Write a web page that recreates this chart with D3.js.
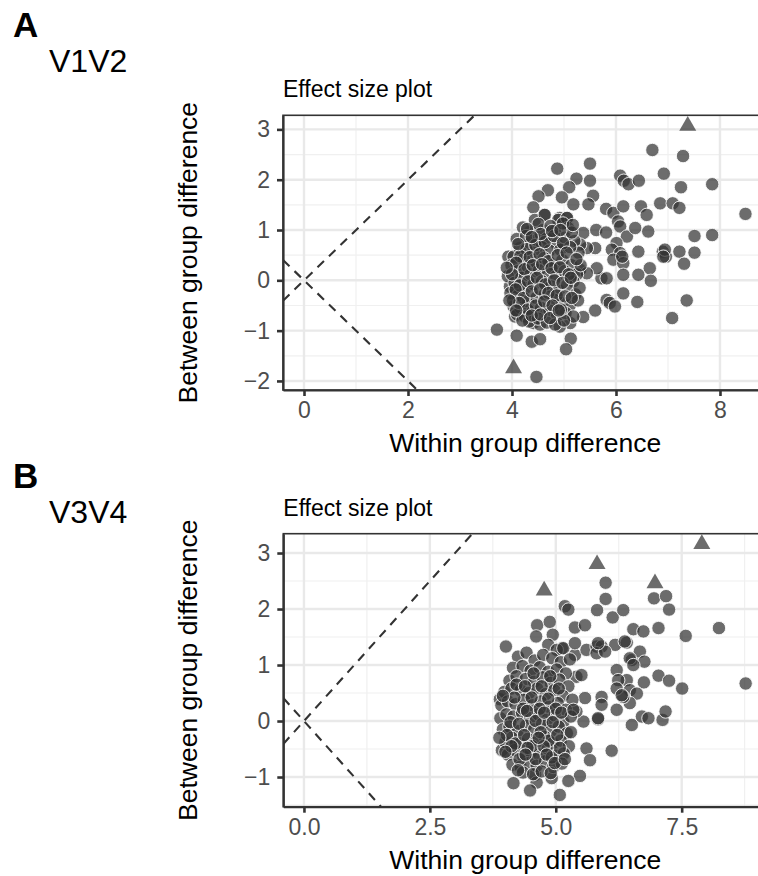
<!DOCTYPE html>
<html>
<head>
<meta charset="utf-8">
<script src="https://cdn.jsdelivr.net/npm/d3@7"></script>
<style>
  body { margin: 0; background: #fff; }
  svg { display: block; font-family: "Liberation Sans", Arial, sans-serif; }
</style>
</head>
<body>
<svg id="chart" width="758" height="876"></svg>
<script>
// V1V2 : within / between group difference (circles), outliers marked as triangles
var v12Circles = [
  [6.70,2.59],[7.29,2.47],[4.87,2.22],[5.50,2.32],[6.92,2.12],[6.08,2.08],[6.15,1.98],[6.24,1.91],[6.44,1.98],
  [5.24,2.02],[5.50,1.98],[5.10,1.85],[7.25,1.85],[7.85,1.91],[4.69,1.79],[4.51,1.67],[4.96,1.65],[5.56,1.68],
  [5.18,1.51],[5.47,1.51],[4.41,1.45],[5.81,1.42],[5.95,1.34],[6.14,1.47],[6.48,1.47],[6.59,1.30],[6.85,1.53],
  [7.09,1.53],[7.22,1.44],[8.49,1.32],[4.62,1.30],[4.92,1.24],[5.05,1.24],[5.37,0.94],[5.62,1.00],[5.81,0.95],
  [6.04,1.17],[6.08,1.07],[6.21,0.87],[6.37,1.04],[6.62,0.97],[7.51,0.88],[7.85,0.90],[6.01,0.74],[5.92,0.61],
  [6.08,0.54],[5.95,0.41],[6.14,0.34],[6.43,0.57],[6.90,0.57],[6.96,0.47],[7.22,0.57],[7.51,0.55],[7.31,0.33],
  [6.65,0.24],[6.67,-0.01],[6.43,0.11],[6.14,0.11],[7.36,-0.40],[7.08,-0.75],[6.41,-0.43],[6.14,-0.26],[5.82,-0.39],
  [5.88,-0.45],[5.98,-0.52],[5.60,-0.60],[5.37,-0.73],[3.71,-0.98],[4.09,-1.10],[4.38,-1.22],[4.54,-1.17],[5.13,-1.16],
  [5.04,-1.37],[4.47,-1.92],[5.72,0.04],[5.82,0.04],[5.63,0.24],[5.31,0.21],[5.44,0.14],[5.60,0.64],[5.44,0.64],
  [5.31,0.71],[5.12,-0.85],[4.92,-0.92],[4.41,-0.85],[4.54,-0.88],[4.03,-0.52],[4.06,-0.72],[3.96,-0.12],[3.93,0.47],
  [6.94,0.61],[6.91,0.47],[6.12,0.47],
  [4.44,1.20],[4.63,1.30],[4.89,1.20],[5.06,1.24],[4.35,0.97],[4.60,1.00],[4.83,0.97],[5.08,1.04],[4.03,0.47],
  [4.15,0.64],[4.35,0.74],[4.48,0.80],[4.67,0.83],[4.86,0.72],[5.02,0.85],[5.20,0.78],[5.28,0.55],[4.21,1.05],
  [4.51,1.12],[4.74,1.08],[4.98,1.13],[5.15,0.95],[4.09,0.82],[4.27,0.88],[4.57,0.66],[4.72,0.59],[4.93,0.61],
  [5.12,0.66],[4.41,0.55],[4.23,0.42],[3.99,0.30],[4.11,0.18],[4.30,0.28],[4.47,0.36],[4.62,0.44],[4.80,0.31],
  [4.97,0.40],[5.14,0.30],[5.25,0.12],[3.92,0.08],[4.05,-0.05],[4.18,0.05],[4.36,0.12],[4.52,0.20],[4.69,0.15],
  [4.85,0.08],[5.01,0.18],[5.18,-0.02],[3.97,-0.25],[4.12,-0.30],[4.26,-0.15],[4.42,-0.08],[4.58,-0.02],[4.75,-0.12],
  [4.90,-0.20],[5.06,-0.10],[5.22,-0.28],[4.02,-0.40],[4.17,-0.55],[4.31,-0.42],[4.47,-0.35],[4.63,-0.28],[4.80,-0.38],
  [4.96,-0.45],[5.11,-0.50],[5.27,-0.40],[4.10,-0.68],[4.25,-0.72],[4.40,-0.62],[4.56,-0.55],[4.72,-0.60],[4.87,-0.70],
  [5.03,-0.65],[5.18,-0.72],[4.33,-0.82],[4.50,-0.76],[4.67,-0.84],[4.83,-0.88],[5.00,-0.80],[4.28,0.62],[4.45,0.70],
  [4.63,0.76],[4.81,0.88],[4.98,0.74],[4.16,0.48],[4.34,0.46],[4.53,0.52],[4.70,0.38],[4.88,0.50],[5.05,0.55],
  [4.08,0.35],[4.24,0.22],[4.40,0.30],[4.58,0.32],[4.76,0.24],[4.92,0.26],[5.09,0.12],[4.00,0.12],[4.15,-0.10],
  [4.31,-0.02],[4.48,0.05],[4.64,-0.08],[4.81,0.00],[4.97,-0.05],[5.13,0.05],[4.07,-0.18],[4.22,-0.35],[4.38,-0.22],
  [4.54,-0.18],[4.70,-0.25],[4.86,-0.30],[5.02,-0.32],[4.14,-0.45],[4.30,-0.58],[4.46,-0.50],[4.62,-0.42],[4.78,-0.50],
  [4.94,-0.58],[4.20,-0.80],[4.38,-0.70],[4.55,-0.68],[4.73,-0.75],[4.90,-0.60],[4.29,1.02],[4.55,0.92],[4.77,0.98],
  [4.93,1.00],[5.17,1.10],[4.12,0.72],[4.38,0.86],[5.32,0.30],[5.30,-0.15],[5.24,0.42],[5.15,-0.35],[3.95,-0.40],
  [3.90,0.25],[4.08,-0.60]
];
var v12Triangles = [[7.38,3.07],[4.03,-1.75]];

// V3V4
var v34Circles = [
  [5.99,2.47],[5.99,2.18],[5.18,2.05],[5.25,1.99],[5.82,1.98],[6.13,1.85],[6.34,1.98],[6.95,2.19],[7.19,2.23],
  [7.25,1.99],[4.63,1.71],[4.88,1.77],[4.61,1.51],[4.94,1.54],[4.01,1.33],[5.38,1.67],[5.58,1.71],[6.54,1.64],
  [6.74,1.60],[7.04,1.66],[7.58,1.52],[8.24,1.66],[6.51,1.09],[6.67,1.24],[6.76,1.06],[6.21,0.91],[6.41,0.73],
  [6.75,0.69],[7.04,0.81],[7.25,0.72],[7.51,0.58],[8.77,0.67],[4.85,1.36],[5.12,1.30],[5.38,1.18],[5.61,1.27],
  [5.81,1.33],[5.91,1.33],[5.81,1.21],[6.18,1.36],[6.41,1.40],[6.37,1.42],[6.47,1.12],[6.54,1.00],[6.47,0.55],
  [6.61,0.49],[6.47,0.32],[6.34,0.43],[6.21,0.20],[6.51,-0.07],[6.71,0.08],[6.84,0.05],[7.12,0.02],[7.18,0.17],
  [5.84,0.03],[6.11,-0.53],[5.61,-0.49],[5.68,-0.70],[5.48,-0.98],[5.25,-1.07],[5.08,-1.32],[4.92,-1.02],[4.59,-0.96],
  [4.62,-1.10],[4.49,-1.24],[4.16,-1.11],[3.93,-0.52],[3.89,0.39],[5.41,0.79],[5.51,0.82],[5.58,0.41],[5.91,0.43],
  [5.91,0.29],[5.55,-0.01],[5.84,0.05],[5.41,0.17],[6.24,0.73],[6.21,0.58],[6.31,0.46],[5.02,1.27],[5.15,1.30],
  [5.38,1.39],[5.98,1.24],[5.84,1.39],
  [4.25,1.15],[4.42,1.22],[4.58,1.08],[4.75,1.18],[4.93,1.12],[5.10,1.05],[5.28,1.10],[4.15,0.95],[4.34,0.98],
  [4.50,0.90],[4.68,0.96],[4.85,0.88],[5.02,0.92],[5.20,0.85],[4.08,0.72],[4.22,0.80],[4.40,0.75],[4.57,0.70],
  [4.74,0.78],[4.90,0.68],[5.07,0.74],[5.25,0.62],[3.98,0.52],[4.12,0.58],[4.30,0.55],[4.47,0.50],[4.63,0.58],
  [4.80,0.48],[4.97,0.55],[5.14,0.45],[5.33,0.38],[3.92,0.28],[4.05,0.35],[4.20,0.30],[4.37,0.38],[4.54,0.28],
  [4.70,0.35],[4.87,0.25],[5.04,0.32],[5.20,0.20],[3.90,0.05],[4.02,0.12],[4.16,0.08],[4.33,0.15],[4.49,0.05],
  [4.65,0.12],[4.82,0.02],[4.98,0.10],[5.15,-0.02],[5.30,0.08],[3.95,-0.15],[4.08,-0.10],[4.24,-0.18],[4.41,-0.08],
  [4.57,-0.15],[4.73,-0.05],[4.90,-0.18],[5.06,-0.10],[5.22,-0.22],[4.00,-0.38],[4.13,-0.30],[4.29,-0.40],[4.45,-0.32],
  [4.61,-0.38],[4.78,-0.28],[4.94,-0.40],[5.10,-0.35],[5.26,-0.45],[4.05,-0.60],[4.19,-0.52],[4.35,-0.62],[4.51,-0.55],
  [4.67,-0.60],[4.84,-0.50],[5.00,-0.62],[5.16,-0.58],[4.14,-0.78],[4.30,-0.82],[4.46,-0.75],[4.62,-0.80],[4.79,-0.72],
  [4.95,-0.82],[5.12,-0.76],[4.35,-0.92],[4.55,-0.95],[4.72,-0.90],[4.90,-0.93],[4.18,0.42],[4.35,0.22],[4.52,0.42],
  [4.68,0.22],[4.85,0.40],[5.00,0.22],[4.10,-0.02],[4.27,-0.05],[4.43,0.18],[4.60,0.00],[4.77,0.15],[4.94,-0.02],
  [5.11,0.15],[4.03,-0.25],[4.20,-0.40],[4.37,-0.25],[4.53,-0.45],[4.70,-0.20],[4.86,-0.35],[5.03,-0.25],[4.12,-0.45],
  [4.28,-0.68],[4.44,-0.48],[4.60,-0.68],[4.76,-0.45],[4.92,-0.65],[5.08,-0.48],[4.22,0.65],[4.39,0.62],[4.56,0.85],
  [4.72,0.62],[4.89,0.80],[5.06,0.58],[4.25,-0.88],[4.40,-0.60],[4.66,-0.30],[4.82,-0.60],[4.98,-0.75],[5.18,-0.68],
  [5.30,-0.20],[5.35,0.20],[3.88,-0.30],[3.95,0.45],[4.00,-0.55]
];
var v34Triangles = [[7.90,3.16],[5.82,2.80],[6.97,2.46],[4.77,2.33]];

// Tick values and labels
var v12XTicks = [0, 2, 4, 6, 8];
var v12XLabels = ["0", "2", "4", "6", "8"];
var v12YTicks = [-2, -1, 0, 1, 2, 3];
var v12YLabels = ["\u22122", "\u22121", "0", "1", "2", "3"];
var v34XTicks = [0, 2.5, 5, 7.5];
var v34XLabels = ["0.0", "2.5", "5.0", "7.5"];
var v34YTicks = [-1, 0, 1, 2, 3];
var v34YLabels = ["\u22121", "0", "1", "2", "3"];

var svg = d3.select("#chart");

var effectSizePanel = function(p) {
  var x = d3.scaleLinear().domain(p.xDomain).range([p.left, p.right]);
  var y = d3.scaleLinear().domain(p.yDomain).range([p.bottom, p.top]);
  var g = svg.append("g").classed("panel-" + p.name, true);

  // clip to panel
  var clipId = "clip-" + p.name;
  svg.append("clipPath").attr("id", clipId).append("rect")
    .attr("x", p.left).attr("y", p.top)
    .attr("width", p.right - p.left).attr("height", p.bottom - p.top);
  var inner = g.append("g").attr("clip-path", "url(#" + clipId + ")");

  // minor grid at midpoints between major ticks
  var mid = function(t) {
    var out = [];
    var step = t[1] - t[0];
    out.push(t[0] - step / 2);
    t.forEach(function(v) { out.push(v + step / 2); });
    return out;
  };
  inner.append("g").selectAll("line").data(mid(p.xTicks)).enter().append("line")
    .attr("x1", x).attr("x2", x).attr("y1", p.top).attr("y2", p.bottom)
    .attr("stroke", "#f0f0f0").attr("stroke-width", 1.2);
  inner.append("g").selectAll("line").data(mid(p.yTicks)).enter().append("line")
    .attr("y1", y).attr("y2", y).attr("x1", p.left).attr("x2", p.right)
    .attr("stroke", "#f0f0f0").attr("stroke-width", 1.2);

  // major grid
  inner.append("g").selectAll("line").data(p.xTicks).enter().append("line")
    .attr("x1", x).attr("x2", x).attr("y1", p.top).attr("y2", p.bottom)
    .attr("stroke", "#e9e9e9").attr("stroke-width", 2.4);
  inner.append("g").selectAll("line").data(p.yTicks).enter().append("line")
    .attr("y1", y).attr("y2", y).attr("x1", p.left).attr("x2", p.right)
    .attr("stroke", "#e9e9e9").attr("stroke-width", 2.4);

  // reference lines y = x and y = -x
  var x0 = p.xDomain[0], x1 = p.xDomain[1];
  inner.append("g").selectAll("line").data([1, -1]).enter().append("line")
    .attr("x1", x(x0)).attr("y1", function(s) { return y(s * x0); })
    .attr("x2", x(x1)).attr("y2", function(s) { return y(s * x1); })
    .attr("stroke", "#333").attr("stroke-width", 2.1)
    .attr("stroke-dasharray", "9,7");

  // points
  inner.append("g").selectAll("circle").data(p.circles).enter().append("circle")
    .attr("cx", function(d) { return x(d[0]); })
    .attr("cy", function(d) { return y(d[1]); })
    .attr("r", 6.7)
    .attr("fill", "#333").attr("fill-opacity", 0.72)
    .attr("stroke", "#fff").attr("stroke-opacity", 0.85).attr("stroke-width", 1);

  inner.append("g").selectAll("path").data(p.triangles).enter().append("path")
    .attr("d", d3.symbol().type(d3.symbolTriangle).size(125))
    .attr("transform", function(d) { return "translate(" + x(d[0]) + "," + y(d[1]) + ")"; })
    .attr("fill", "#333").attr("fill-opacity", 0.72);

  // panel border
  g.append("rect")
    .attr("x", p.left).attr("y", p.top)
    .attr("width", p.right - p.left).attr("height", p.bottom - p.top)
    .attr("fill", "none").attr("stroke", "#333").attr("stroke-width", 1.6);

  // axes
  var xAxis = d3.axisBottom(x).tickValues(p.xTicks).tickSize(6).tickSizeOuter(0).tickPadding(6)
    .tickFormat(function(d, i) { return p.xLabels[i]; });
  var yAxis = d3.axisLeft(y).tickValues(p.yTicks).tickSize(6).tickSizeOuter(0).tickPadding(7)
    .tickFormat(function(d, i) { return p.yLabels[i]; });
  var axes = [
    g.append("g").attr("transform", "translate(0," + p.bottom + ")").call(xAxis),
    g.append("g").attr("transform", "translate(" + p.left + ",0)").call(yAxis)
  ];
  axes.forEach(function(a) {
    a.select(".domain").attr("stroke", "#333").attr("stroke-width", 2.2);
    a.selectAll(".tick line").attr("stroke", "#333").attr("stroke-width", 2.6);
    a.selectAll(".tick text").attr("fill", "#4d4d4d")
      .style("font-size", "23px").style("font-family", "'Liberation Sans', Arial, sans-serif");
  });

  // titles
  g.append("text").attr("x", p.left).attr("y", p.top - 18)
    .style("font-size", "23px").attr("fill", "#000").text("Effect size plot");
  g.append("text").attr("x", (p.left + p.right) / 2).attr("y", p.bottom + 62)
    .attr("text-anchor", "middle").style("font-size", "26.5px").text("Within group difference");
  g.append("text")
    .attr("transform", "translate(197," + ((p.top + p.bottom) / 2) + ") rotate(-90)")
    .attr("text-anchor", "middle").style("font-size", "26.5px").text("Between group difference");

  // panel tag and region name
  svg.append("text").attr("x", 13).attr("y", p.tagY)
    .style("font-size", "35px").style("font-weight", "bold").text(p.tag);
  svg.append("text").attr("x", 49).attr("y", p.tagY + 35)
    .style("font-size", "32px").text(p.region);
};

effectSizePanel({
  name: "a", tag: "A", region: "V1V2", tagY: 37,
  left: 283, right: 767.3, top: 115.3, bottom: 390,
  xDomain: [-0.404, 8.91], yDomain: [-2.18, 3.28],
  xTicks: v12XTicks, xLabels: v12XLabels, yTicks: v12YTicks, yLabels: v12YLabels,
  circles: v12Circles, triangles: v12Triangles
});

effectSizePanel({
  name: "b", tag: "B", region: "V3V4", tagY: 488,
  left: 283.3, right: 767.3, top: 533.7, bottom: 806.7,
  xDomain: [-0.41, 9.2], yDomain: [-1.53, 3.345],
  xTicks: v34XTicks, xLabels: v34XLabels, yTicks: v34YTicks, yLabels: v34YLabels,
  circles: v34Circles, triangles: v34Triangles
});
</script>
</body>
</html>
